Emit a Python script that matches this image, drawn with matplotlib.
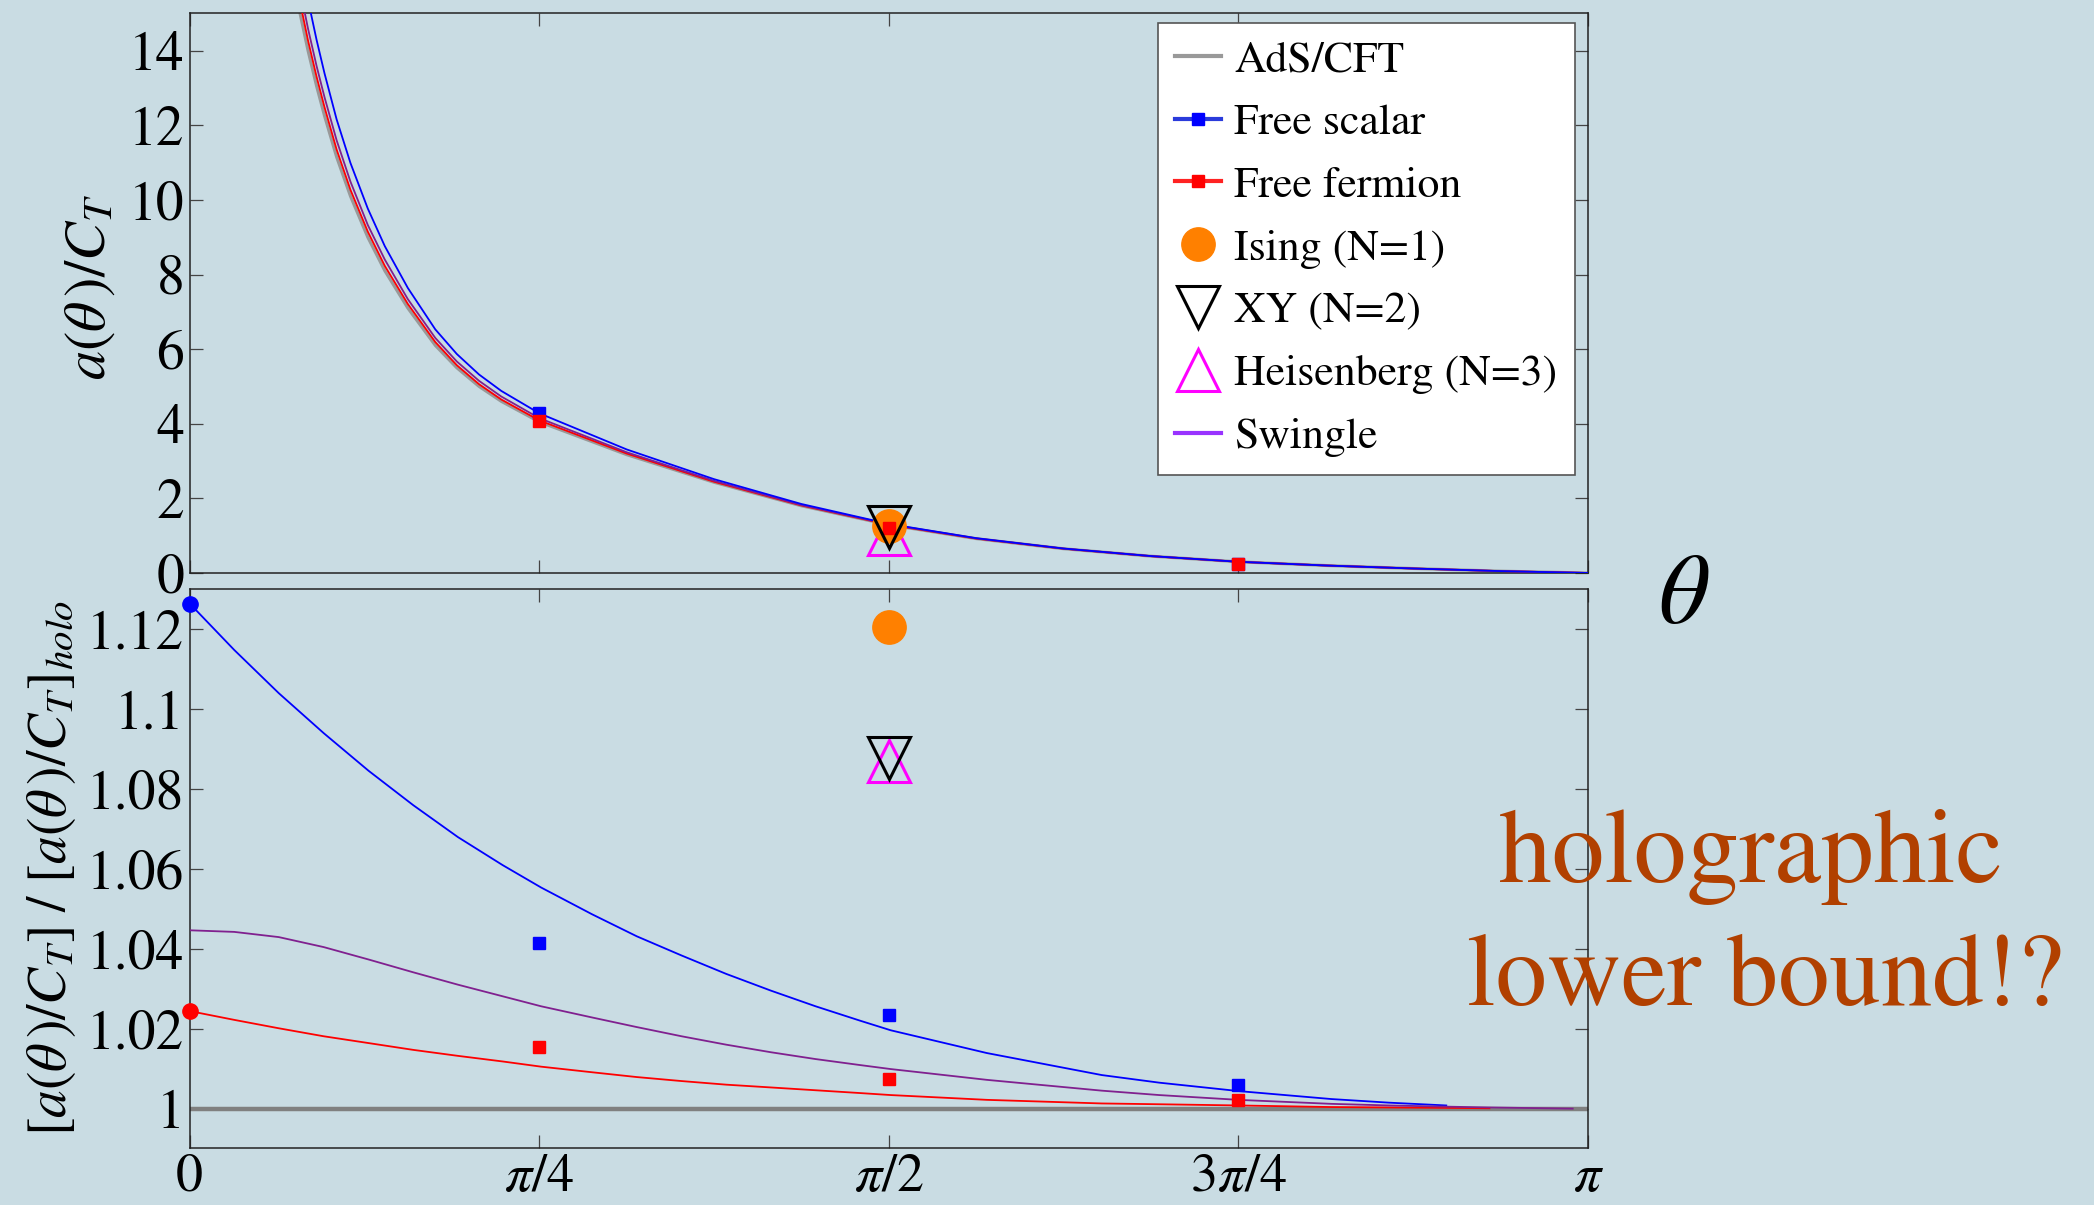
import numpy as np
import matplotlib
matplotlib.use("Agg")
import matplotlib.pyplot as plt
from matplotlib.lines import Line2D

plt.rcParams['font.family'] = ['STIXGeneral', 'DejaVu Serif']
plt.rcParams['mathtext.fontset'] = 'stix'

# ---- data ----
# top panel: a(theta)/C_T
theta_top = [0.22, 0.2478, 0.2658, 0.285, 0.3029, 0.33, 0.3611, 0.40, 0.4383, 0.49,
             0.5517, 0.60, 0.65, 0.70, 0.7854, 0.982, 1.178, 1.374, 1.571, 1.767,
             1.963, 2.16, 2.356, 2.553, 2.749, 2.945, 3.1416]
ads_top = [16.9, 15.0, 14.0, 13.05, 12.25, 11.15, 10.1, 9.0, 8.1, 7.1,
           6.1, 5.5, 5.0, 4.6, 4.05, 3.17, 2.43, 1.80, 1.29, 0.92,
           0.65, 0.45, 0.30, 0.20, 0.12, 0.05, 0.0]
scalar_top = [18.62, 16.49, 15.36, 14.29, 13.39, 12.16, 10.99, 9.77, 8.76, 7.64,
              6.53, 5.87, 5.32, 4.88, 4.28, 3.31, 2.515, 1.85, 1.315, 0.933,
              0.656, 0.453, 0.30, 0.20, 0.12, 0.05, 0.0]
fermion_top = [17.24, 15.30, 14.27, 13.30, 12.48, 11.35, 10.27, 9.15, 8.23, 7.21,
               6.19, 5.57, 5.06, 4.65, 4.09, 3.20, 2.445, 1.81, 1.294, 0.922,
               0.651, 0.45, 0.30, 0.20, 0.12, 0.05, 0.0]
swingle_top = [17.62, 15.64, 14.59, 13.59, 12.75, 11.60, 10.49, 9.33, 8.40, 7.34,
               6.30, 5.67, 5.15, 4.73, 4.15, 3.235, 2.47, 1.82, 1.3025, 0.927,
               0.653, 0.451, 0.30, 0.20, 0.12, 0.05, 0.0]

theta_pts = [np.pi / 4, np.pi / 2, 3 * np.pi / 4]
scalar_pts_top = [4.30, 1.23, 0.25]
fermion_pts_top = [4.08, 1.21, 0.25]
ising_top, xy_top, heis_top = 1.26, 1.22, 1.04

# bottom panel: ratio to holographic value
theta_bot = [0, 0.1, 0.2, 0.301, 0.4017, 0.502, 0.6026, 0.703, 0.7894, 0.904,
             1.0043, 1.105, 1.2052, 1.306, 1.406, 1.506, 1.5748, 1.791, 2.049, 2.178,
             2.356, 2.565, 2.694, 2.823, 2.92, 3.107]
scalar_ratio = [1.1263, 1.1147, 1.1039, 1.0939, 1.0845, 1.0759, 1.0679, 1.0609, 1.0553, 1.0486,
                1.0431, 1.0383, 1.0337, 1.0295, 1.0256, 1.022, 1.0196, 1.0139, 1.0084, 1.0065,
                1.0044, 1.0024, 1.0015, 1.0008]
fermion_ratio = [1.0244, 1.0222, 1.0201, 1.0181, 1.0164, 1.0147, 1.0132, 1.0118, 1.0105, 1.0091,
                 1.0079, 1.0069, 1.006, 1.0053, 1.0046, 1.0039, 1.0034, 1.0022, 1.0013, 1.0011,
                 1.0008, 1.0004, 1.0003, 1.0002, 1.0001]
swingle_ratio = [1.0446, 1.0442, 1.0429, 1.0404, 1.0373, 1.0341, 1.0310, 1.0281, 1.0256, 1.0228,
                 1.0204, 1.0181, 1.016, 1.0141, 1.0124, 1.0109, 1.0099, 1.0072, 1.0045, 1.0034,
                 1.0022, 1.0012, 1.0008, 1.0005, 1.0003, 1.0]
ads_theta = [0, np.pi]
ads_ratio = [1.0, 1.0]

scalar_pts_bot = [1.0414, 1.0233, 1.0058]
fermion_pts_bot = [1.0153, 1.0073, 1.0022]
scalar_zero, fermion_zero = 1.1263, 1.0244
ising_bot, xy_bot, heis_bot = 1.1204, 1.0877, 1.0869

xticks = [0, np.pi / 4, np.pi / 2, 3 * np.pi / 4, np.pi]
xticklabels = ['0', r'$\pi/4$', r'$\pi/2$', r'$3\pi/4$', r'$\pi$']
yticks_top = [0, 2, 4, 6, 8, 10, 12, 14]
yticks_bot = [1.0, 1.02, 1.04, 1.06, 1.08, 1.1, 1.12]
yticklabels_bot = ['1', '1.02', '1.04', '1.06', '1.08', '1.1', '1.12']

bg = '#C9DCE3'
purple = '#80208F'
orange = '#FF8000'

fig = plt.figure(figsize=(20.94, 12.05), dpi=100, facecolor=bg)
ax1 = fig.add_axes([0.0906, 0.5245, 0.6678, 0.4644], facecolor=bg)
ax2 = fig.add_axes([0.0906, 0.0471, 0.6678, 0.4643], facecolor=bg)

# top panel
ax1.plot(theta_top, ads_top, color='#999999', lw=2.2, zorder=2)
ax1.plot(theta_top, fermion_top, color='red', lw=1.3, zorder=3)
ax1.plot(theta_top, swingle_top, color=purple, lw=1.3, zorder=3)
ax1.plot(theta_top, scalar_top, color='blue', lw=1.3, zorder=3)
ax1.plot(theta_pts, scalar_pts_top, 's', color='blue', ms=9, zorder=4)
ax1.plot(np.pi / 2, heis_top, '^', ms=30, mfc='none', mec='#FF00FF', mew=2.2, zorder=5)
ax1.plot(np.pi / 2, ising_top, 'o', ms=24, color=orange, zorder=5)
ax1.plot(theta_pts, fermion_pts_top, 's', color='red', ms=9, zorder=6)
ax1.plot(np.pi / 2, xy_top, 'v', ms=30, mfc='none', mec='black', mew=2.2, zorder=7)

# bottom panel
ax2.plot(ads_theta, ads_ratio, color='#808080', lw=3.2, zorder=2)
ax2.plot(theta_bot[:len(scalar_ratio)], scalar_ratio, color='blue', lw=1.3, zorder=3)
ax2.plot(theta_bot[:len(fermion_ratio)], fermion_ratio, color='red', lw=1.3, zorder=3)
ax2.plot(theta_bot, swingle_ratio, color=purple, lw=1.3, zorder=3)
ax2.plot(theta_pts, scalar_pts_bot, 's', color='blue', ms=9, zorder=4)
ax2.plot(theta_pts, fermion_pts_bot, 's', color='red', ms=9, zorder=4)
ax2.plot(0, scalar_zero, 'o', color='blue', ms=11, zorder=5, clip_on=False)
ax2.plot(0, fermion_zero, 'o', color='red', ms=11, zorder=5, clip_on=False)
ax2.plot(np.pi / 2, ising_bot, 'o', ms=24, color=orange, zorder=5)
ax2.plot(np.pi / 2, heis_bot, '^', ms=30, mfc='none', mec='#FF00FF', mew=2.2, zorder=5)
ax2.plot(np.pi / 2, xy_bot, 'v', ms=30, mfc='none', mec='black', mew=2.2, zorder=6)

for ax in (ax1, ax2):
    ax.set_xlim(0, np.pi)
    ax.set_xticks(xticks)
    ax.tick_params(direction='in', top=True, right=True, length=9.4, width=0.9,
                   color='#444444', labelsize=40, pad=4)
    ax.tick_params(axis='x', pad=4, labelsize=39)
    for s in ax.spines.values():
        s.set_linewidth(1.1)
        s.set_color('#222222')

ax1.set_ylim(0, 15)
ax1.set_yticks(yticks_top)
ax1.set_xticklabels([])
ax2.set_ylim(0.9901, 1.1300)
ax2.set_yticks(yticks_bot)
ax2.set_yticklabels(yticklabels_bot)
ax2.set_xticklabels(xticklabels)

fig.text(0.0435, 0.762, r'$a(\theta\,)/C_T$', rotation=90, fontsize=42,
         ha='center', va='center')
fig.text(0.0244, 0.2797, r'$[a(\theta\,)/C_T]\ /\ [a(\theta\,)/C_T]_{holo}$',
         rotation=90, fontsize=40, ha='center', va='center')
fig.text(0.804, 0.502, r'$\theta$', fontsize=72, ha='center', va='center')

fig.text(0.836, 0.268, 'holographic', fontsize=76, color='#B14000',
         ha='center', va='baseline')
fig.text(0.843, 0.166, 'lower bound!?', fontsize=74, color='#B14000',
         ha='center', va='baseline')

handles = [
    Line2D([], [], color='#999999', lw=3),
    Line2D([], [], color='#2A3BDB', lw=3, marker='s', ms=9, mfc='blue', mec='blue'),
    Line2D([], [], color='#FF2222', lw=3, marker='s', ms=9, mfc='red', mec='red'),
    Line2D([], [], ls='none', marker='o', ms=24, color=orange),
    Line2D([], [], ls='none', marker='v', ms=30, mfc='none', mec='black', mew=2.2),
    Line2D([], [], ls='none', marker='^', ms=30, mfc='none', mec='#FF00FF', mew=2.2),
    Line2D([], [], color='#9933FF', lw=3),
]
labels = ['AdS/CFT', 'Free scalar', 'Free fermion', 'Ising (N=1)', 'XY (N=2)',
          'Heisenberg (N=3)', 'Swingle']
leg = ax1.legend(handles, labels, loc='upper right', bbox_to_anchor=(0.7521, 0.9809),
                 bbox_transform=fig.transFigure, borderaxespad=0, fontsize=31.5,
                 fancybox=False, framealpha=1, edgecolor='#555555',
                 handlelength=1.05, handletextpad=0.3, labelspacing=0.53,
                 borderpad=0.4)
leg.get_frame().set_linewidth(1.2)
leg.set_zorder(10)

fig.savefig('out.png', dpi=100, facecolor=bg)
